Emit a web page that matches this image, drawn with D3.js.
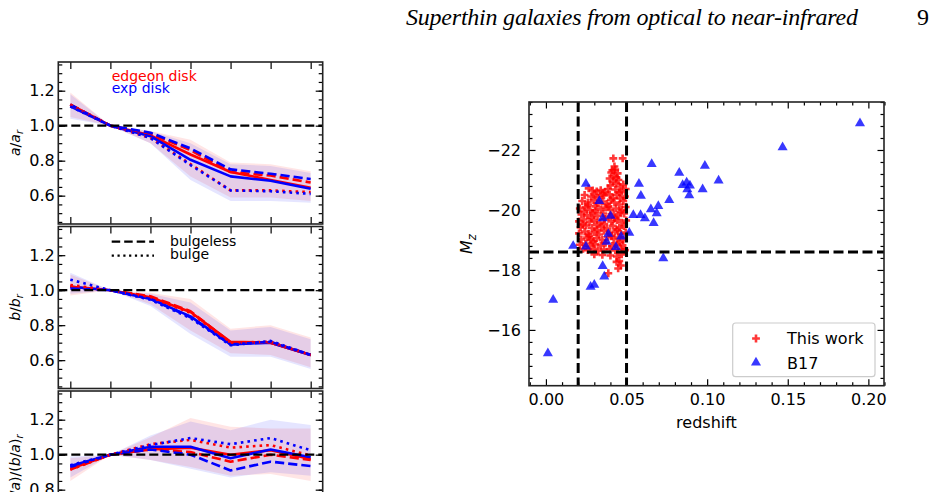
<!DOCTYPE html>
<html><head><meta charset="utf-8">
<script src="https://cdn.jsdelivr.net/npm/d3@7"></script>
<style>body{margin:0;background:#fff;} svg{display:block;}</style>
</head><body>
<svg id="c" width="938" height="492"></svg>
<script>
// ---------------- data: left stacked panels ----------------
const steps = [0, 1, 2, 3, 4, 5, 6];
const yTicksLeft = [0.6, 0.8, 1.0, 1.2];

// panel a/a_r
const aRedSolid  = [1.12, 1.0, 0.945, 0.835, 0.735, 0.69, 0.645];
const aBlueSolid = [1.11, 1.0, 0.94, 0.805, 0.71, 0.685, 0.64];
const aRedDash   = [1.12, 1.0, 0.955, 0.86, 0.735, 0.715, 0.675];
const aBlueDash  = [1.12, 1.0, 0.96, 0.87, 0.75, 0.725, 0.695];
const aRedDot    = [1.12, 1.0, 0.93, 0.78, 0.63, 0.63, 0.62];
const aBlueDot   = [1.11, 1.0, 0.93, 0.775, 0.63, 0.625, 0.61];
const aRedLo  = [1.05, 1.0, 0.90, 0.71, 0.59, 0.59, 0.57];
const aRedHi  = [1.19, 1.0, 0.97, 0.92, 0.79, 0.78, 0.74];
const aBlueLo = [1.04, 1.0, 0.90, 0.69, 0.57, 0.57, 0.56];
const aBlueHi = [1.18, 1.0, 0.97, 0.90, 0.78, 0.77, 0.73];

// panel b/b_r
const bRedSolid  = [1.02, 1.0, 0.96, 0.875, 0.705, 0.70, 0.63];
const bBlueSolid = [1.02, 1.0, 0.95, 0.85, 0.69, 0.70, 0.63];
const bRedDash   = [1.02, 1.0, 0.965, 0.88, 0.70, 0.70, 0.63];
const bBlueDash  = [1.01, 1.0, 0.95, 0.845, 0.69, 0.705, 0.63];
const bRedDot    = [1.03, 1.0, 0.96, 0.87, 0.70, 0.705, 0.63];
const bBlueDot   = [1.06, 1.0, 0.945, 0.84, 0.685, 0.71, 0.63];
const bRedLo  = [0.97, 1.0, 0.92, 0.77, 0.64, 0.63, 0.56];
const bRedHi  = [1.09, 1.0, 0.985, 0.95, 0.78, 0.80, 0.73];
const bBlueLo = [0.98, 1.0, 0.91, 0.75, 0.62, 0.62, 0.55];
const bBlueHi = [1.10, 1.0, 0.98, 0.93, 0.77, 0.79, 0.72];

// panel (b/a)/(b/a)_r
const cRedSolid  = [0.92, 1.0, 1.03, 1.04, 1.0, 1.025, 0.975];
const cBlueSolid = [0.935, 1.0, 1.045, 1.045, 0.98, 1.03, 0.985];
const cRedDash   = [0.915, 1.0, 1.03, 1.015, 0.96, 1.0, 0.97];
const cBlueDash  = [0.93, 1.0, 1.03, 1.0, 0.91, 0.96, 0.935];
const cRedDot    = [0.915, 1.0, 1.06, 1.085, 1.04, 1.055, 0.995];
const cBlueDot   = [0.94, 1.0, 1.055, 1.095, 1.06, 1.095, 1.025];
const cRedLo  = [0.85, 1.0, 0.97, 0.93, 0.88, 0.89, 0.85];
const cRedHi  = [0.98, 1.0, 1.10, 1.21, 1.16, 1.15, 1.15];
const cBlueLo = [0.87, 1.0, 0.97, 0.92, 0.87, 0.90, 0.88];
const cBlueHi = [0.99, 1.0, 1.11, 1.19, 1.14, 1.20, 1.17];

// ---------------- data: scatter ----------------
const xTicksScatter = [0.00, 0.05, 0.10, 0.15, 0.20];
const yTicksScatter = [-22, -20, -18, -16];
const redshiftCuts = [0.02, 0.05];
const magnitudeCut = [-18.6];
const legendNames = ["This work", "B17"];

// [redshift, M_z]  -- this work
const thisWork = [
 [0.0418,-21.72],[0.0476,-21.72],
 [0.0430,-21.35],[0.0405,-21.25],[0.0445,-21.22],[0.0420,-21.12],[0.0395,-21.05],[0.0450,-21.0],
 [0.0415,-20.95],[0.0435,-20.88],[0.0480,-20.85],[0.0400,-20.82],[0.0460,-20.78],[0.0425,-21.45],
 [0.0412,-21.32],[0.0438,-21.08],
 [0.0265,-20.72],[0.0290,-20.65],[0.0315,-20.62],[0.0340,-20.66],[0.0366,-20.6],[0.0385,-20.7],
 [0.0430,-20.68],[0.0470,-20.62],[0.0495,-20.7],[0.0352,-20.55],[0.0455,-20.58],
 [0.0240,-20.5],[0.0280,-20.45],[0.0305,-20.5],[0.0330,-20.42],[0.0360,-20.48],[0.0395,-20.52],
 [0.0415,-20.4],[0.0440,-20.5],[0.0460,-20.38],[0.0490,-20.45],
 [0.0225,-20.3],[0.0260,-20.25],[0.0295,-20.32],[0.0350,-20.28],[0.0380,-20.2],[0.0425,-20.25],
 [0.0455,-20.18],[0.0480,-20.3],[0.0318,-20.22],[0.0402,-20.34],
 [0.0210,-20.05],[0.0245,-20.1],[0.0275,-20.0],[0.0310,-20.12],[0.0340,-20.02],[0.0370,-20.08],
 [0.0400,-20.0],[0.0435,-20.05],[0.0470,-20.0],[0.0495,-20.1],[0.0262,-20.16],[0.0388,-20.12],
 [0.0220,-19.85],[0.0255,-19.82],[0.0290,-19.9],[0.0320,-19.8],[0.0355,-19.88],[0.0390,-19.78],
 [0.0420,-19.86],[0.0450,-19.8],[0.0485,-19.88],[0.0238,-19.95],[0.0305,-19.96],[0.0462,-19.93],
 [0.0205,-19.62],[0.0235,-19.68],[0.0270,-19.6],[0.0300,-19.66],[0.0335,-19.58],[0.0365,-19.7],
 [0.0405,-19.62],[0.0440,-19.66],[0.0470,-19.58],[0.0498,-19.65],[0.0282,-19.74],[0.0428,-19.73],
 [0.0215,-19.42],[0.0250,-19.48],[0.0285,-19.4],[0.0315,-19.5],[0.0345,-19.44],[0.0380,-19.38],
 [0.0415,-19.47],[0.0455,-19.4],[0.0485,-19.46],[0.0228,-19.52],[0.0362,-19.53],
 [0.0205,-19.22],[0.0240,-19.28],[0.0265,-19.2],[0.0300,-19.26],[0.0330,-19.18],[0.0360,-19.3],
 [0.0395,-19.22],[0.0430,-19.28],[0.0465,-19.2],[0.0495,-19.25],[0.0318,-19.34],[0.0442,-19.34],
 [0.0220,-19.02],[0.0255,-19.08],[0.0280,-19.0],[0.0315,-19.06],[0.0350,-19.0],[0.0385,-19.1],
 [0.0420,-19.03],[0.0450,-19.08],[0.0480,-19.0],[0.0268,-19.13],[0.0408,-19.14],
 [0.0210,-18.84],[0.0245,-18.88],[0.0275,-18.8],[0.0305,-18.86],[0.0340,-18.82],[0.0370,-18.9],
 [0.0410,-18.8],[0.0440,-18.86],[0.0475,-18.82],[0.0292,-18.95],[0.0458,-18.93],
 [0.0230,-18.7],[0.0260,-18.66],[0.0295,-18.7],[0.0325,-18.64],[0.0360,-18.68],[0.0395,-18.7],
 [0.0430,-18.65],[0.0465,-18.7],[0.0490,-18.66],
 [0.0350,-18.5],[0.0400,-18.48],[0.0440,-18.45],[0.0470,-18.52],[0.0455,-18.3],[0.0438,-18.27],
 [0.0465,-18.15],[0.0448,-18.05],[0.0387,-17.89],[0.0300,-18.52]
];

// [redshift, M_z]  -- B17
const b17 = [
 [0.1948,-22.89],[0.1468,-22.09],[0.0656,-21.53],[0.0986,-21.47],[0.0827,-21.24],[0.1071,-20.98],
 [0.0248,-20.87],[0.0577,-20.87],[0.0848,-20.83],[0.0873,-20.91],[0.0893,-20.81],[0.0877,-20.69],
 [0.0972,-20.69],[0.0889,-20.49],[0.0589,-20.47],[0.0331,-20.30],[0.0765,-20.33],[0.0697,-20.13],
 [0.0651,-20.02],[0.0687,-19.89],[0.0542,-19.83],[0.0587,-19.83],[0.0614,-19.72],[0.0668,-19.56],
 [0.0401,-19.80],[0.0352,-19.72],[0.0387,-19.20],[0.0517,-19.24],[0.0467,-19.11],[0.0376,-18.94],
 [0.0169,-18.80],[0.0248,-18.78],[0.0434,-18.76],[0.0728,-18.39],[0.0352,-18.13],[0.0362,-17.78],
 [0.0277,-17.44],[0.0300,-17.50],[0.0045,-17.00],[0.0012,-15.22]
];

// ---------------- drawing ----------------
const svg = d3.select('#c');
const FONT = "'DejaVu Sans', sans-serif";
const RED = '#ff0000', BLUE = '#0000ff';

// header
svg.append('text').attr('x', 406).attr('y', 25).attr('font-family', "'Liberation Serif', serif")
  .attr('font-style', 'italic').attr('font-size', 24).attr('textLength', 452).attr('lengthAdjust', 'spacing')
  .text('Superthin galaxies from optical to near-infrared');
svg.append('text').attr('x', 917).attr('y', 25).attr('font-family', "'Liberation Serif', serif")
  .attr('font-size', 24).text('9');

// ---- left panels ----
const lx = d3.scaleLinear().domain([-0.3, 6.3]).range([58.3, 322.7]);
const panelH = 162;
const panels = [
  {top: 62, lines: [aRedSolid, aBlueSolid, aRedDash, aBlueDash, aRedDot, aBlueDot],
   bands: [[aRedLo, aRedHi], [aBlueLo, aBlueHi]], label: 'a'},
  {top: 226.5, lines: [bRedSolid, bBlueSolid, bRedDash, bBlueDash, bRedDot, bBlueDot],
   bands: [[bRedLo, bRedHi], [bBlueLo, bBlueHi]], label: 'b'},
  {top: 391, lines: [cRedSolid, cBlueSolid, cRedDash, cBlueDash, cRedDot, cBlueDot],
   bands: [[cRedLo, cRedHi], [cBlueLo, cBlueHi]], label: 'c'}
];
const lineStyles = [
  {c: RED, dash: null}, {c: BLUE, dash: null},
  {c: RED, dash: '9.2,4'}, {c: BLUE, dash: '9.2,4'},
  {c: RED, dash: '2.6,4.1'}, {c: BLUE, dash: '2.6,4.1'}
];
const minorLeft = d3.range(0.45, 1.37, 0.05).map(v => +v.toFixed(2));

panels.forEach((p, pi) => {
  const y = d3.scaleLinear().domain([0.438, 1.364]).range([p.top + panelH, p.top]);
  const g = svg.append('g');
  const clipId = 'clip' + pi;
  svg.append('clipPath').attr('id', clipId).append('rect')
    .attr('x', lx.range()[0]).attr('y', p.top).attr('width', lx.range()[1] - lx.range()[0]).attr('height', panelH);
  const dg = g.append('g').attr('clip-path', `url(#${clipId})`);
  const bandColors = [RED, BLUE];
  p.bands.forEach((b, bi) => {
    const area = d3.area().x((d, i) => lx(steps[i])).y0((d, i) => y(b[0][i])).y1((d, i) => y(b[1][i]));
    dg.append('path').datum(steps).attr('d', area).attr('fill', bandColors[bi]).attr('fill-opacity', 0.1);
  });
  p.lines.forEach((vals, li) => {
    const st = lineStyles[li];
    const line = d3.line().x((d, i) => lx(steps[i])).y(d => y(d));
    dg.append('path').datum(vals).attr('d', line).attr('fill', 'none').attr('stroke', st.c)
      .attr('stroke-width', 2.6).attr('stroke-dasharray', st.dash).attr('stroke-linejoin', 'round');
  });
  dg.append('line').attr('x1', lx.range()[0]).attr('x2', lx.range()[1]).attr('y1', y(1.0)).attr('y2', y(1.0))
    .attr('stroke', '#000').attr('stroke-width', 2.2).attr('stroke-dasharray', '9,4');

  // axes
  const axL = g.append('g').attr('transform', `translate(${lx.range()[0]},0)`)
    .call(d3.axisLeft(y).tickValues(yTicksLeft).tickFormat(d3.format('.1f')).tickSizeInner(-7).tickSizeOuter(0).tickPadding(3.5));
  const axLm = g.append('g').attr('transform', `translate(${lx.range()[0]},0)`)
    .call(d3.axisLeft(y).tickValues(minorLeft).tickFormat('').tickSizeInner(-4).tickSizeOuter(0));
  const axR = g.append('g').attr('transform', `translate(${lx.range()[1]},0)`)
    .call(d3.axisRight(y).tickValues(yTicksLeft).tickFormat('').tickSizeInner(-7).tickSizeOuter(0));
  const axRm = g.append('g').attr('transform', `translate(${lx.range()[1]},0)`)
    .call(d3.axisRight(y).tickValues(minorLeft).tickFormat('').tickSizeInner(-4).tickSizeOuter(0));
  const axT = g.append('g').attr('transform', `translate(0,${p.top})`)
    .call(d3.axisTop(lx).tickValues(steps).tickFormat('').tickSizeInner(-7).tickSizeOuter(0));
  const axB = g.append('g').attr('transform', `translate(0,${p.top + panelH})`)
    .call(d3.axisBottom(lx).tickValues(steps).tickFormat('').tickSizeInner(-7).tickSizeOuter(0));
  [axL, axLm, axR, axRm, axT, axB].forEach(a => {
    a.select('.domain').remove();
    a.selectAll('line').attr('stroke', '#000').attr('stroke-width', 1.2);
    a.selectAll('text').attr('font-family', FONT).attr('font-size', 16).attr('fill', '#000');
  });
  g.append('rect').attr('x', lx.range()[0]).attr('y', p.top).attr('width', lx.range()[1] - lx.range()[0])
    .attr('height', panelH).attr('fill', 'none').attr('stroke', '#222').attr('stroke-width', 1.6);

  // y labels
  const cy = p.top + panelH / 2;
  const lab = svg.append('text').attr('transform', `translate(19.5,${cy}) rotate(-90)`)
    .attr('text-anchor', 'middle').attr('font-family', FONT).attr('font-size', 14);
  const it = (t) => lab.append('tspan').attr('font-style', 'italic').text(t);
  const up = (t) => lab.append('tspan').text(t);
  const sub = (t) => lab.append('tspan').attr('font-style', 'italic').attr('font-size', 10).attr('dy', 3).text(t);
  if (p.label === 'a') { it('a'); up('/'); it('a'); sub('r'); }
  else if (p.label === 'b') { it('b'); up('/'); it('b'); sub('r'); }
  else { up('('); it('b'); up('/'); it('a'); up(')/('); it('b'); up('/'); it('a'); up(')'); sub('r'); }
});

// panel legends
svg.append('text').attr('x', 111.7).attr('y', 81).attr('font-family', FONT).attr('font-size', 14)
  .attr('fill', RED).text('edgeon disk');
svg.append('text').attr('x', 111.7).attr('y', 93).attr('font-family', FONT).attr('font-size', 14)
  .attr('fill', BLUE).text('exp disk');
svg.append('line').attr('x1', 111.7).attr('x2', 154).attr('y1', 241.7).attr('y2', 241.7)
  .attr('stroke', '#000').attr('stroke-width', 2.2).attr('stroke-dasharray', '8.5,4');
svg.append('line').attr('x1', 111.7).attr('x2', 154).attr('y1', 255.7).attr('y2', 255.7)
  .attr('stroke', '#000').attr('stroke-width', 2.2).attr('stroke-dasharray', '2.2,3.6');
svg.append('text').attr('x', 170).attr('y', 246).attr('font-family', FONT).attr('font-size', 14).text('bulgeless');
svg.append('text').attr('x', 170).attr('y', 258.5).attr('font-family', FONT).attr('font-size', 14).text('bulge');

// ---- scatter ----
const sx = d3.scaleLinear().domain([-0.0105, 0.2097]).range([529, 884]);
const sy = d3.scaleLinear().domain([-23.6, -14.14]).range([102, 385.7]);
const sg = svg.append('g');
svg.append('clipPath').attr('id', 'sclip').append('rect')
  .attr('x', 529).attr('y', 102).attr('width', 355).attr('height', 283.7);
const sd = sg.append('g').attr('clip-path', 'url(#sclip)');
const crossSym = d3.symbol(d3.symbolCross, 34);
const triSym = d3.symbol(d3.symbolTriangle, 44);
sd.selectAll('path.tw').data(thisWork).join('path').attr('class', 'tw')
  .attr('d', crossSym)
  .attr('transform', d => `translate(${sx(d[0])},${sy(d[1])})`)
  .attr('fill', RED).attr('fill-opacity', 0.78);
sd.selectAll('path.b17').data(b17).join('path').attr('class', 'b17')
  .attr('d', triSym)
  .attr('transform', d => `translate(${sx(d[0])},${sy(d[1])})`)
  .attr('fill', BLUE).attr('fill-opacity', 0.78);
sd.selectAll('line.vc').data(redshiftCuts).join('line').attr('class', 'vc')
  .attr('x1', d => sx(d)).attr('x2', d => sx(d)).attr('y1', 102).attr('y2', 385.7)
  .attr('stroke', '#000').attr('stroke-width', 3).attr('stroke-dasharray', '10,4.5');
sd.selectAll('line.hc').data(magnitudeCut).join('line').attr('class', 'hc')
  .attr('x1', 529).attr('x2', 884).attr('y1', d => sy(d)).attr('y2', d => sy(d))
  .attr('stroke', '#000').attr('stroke-width', 3).attr('stroke-dasharray', '10,4.5');

const xMinor = d3.range(-0.01, 0.2101, 0.01).map(v => +v.toFixed(2)).filter(v => xTicksScatter.indexOf(v) < 0);
const yMinor = d3.range(-23.6, -14.1, 0.4).map(v => +v.toFixed(1)).filter(v => yTicksScatter.indexOf(v) < 0);
const fmtMinus = v => String(v).replace('-', '\u2212');
const sAxes = [
  sg.append('g').attr('transform', 'translate(0,385.7)')
    .call(d3.axisBottom(sx).tickValues(xTicksScatter).tickFormat(d3.format('.2f')).tickSizeInner(-6.5).tickSizeOuter(0).tickPadding(8)),
  sg.append('g').attr('transform', 'translate(0,385.7)')
    .call(d3.axisBottom(sx).tickValues(xMinor).tickFormat('').tickSizeInner(-3.5).tickSizeOuter(0)),
  sg.append('g').attr('transform', 'translate(0,102)')
    .call(d3.axisTop(sx).tickValues(xTicksScatter).tickFormat('').tickSizeInner(-6.5).tickSizeOuter(0)),
  sg.append('g').attr('transform', 'translate(0,102)')
    .call(d3.axisTop(sx).tickValues(xMinor).tickFormat('').tickSizeInner(-3.5).tickSizeOuter(0)),
  sg.append('g').attr('transform', 'translate(529,0)')
    .call(d3.axisLeft(sy).tickValues(yTicksScatter).tickFormat(fmtMinus).tickSizeInner(-6.5).tickSizeOuter(0).tickPadding(8)),
  sg.append('g').attr('transform', 'translate(529,0)')
    .call(d3.axisLeft(sy).tickValues(yMinor).tickFormat('').tickSizeInner(-3.5).tickSizeOuter(0)),
  sg.append('g').attr('transform', 'translate(884,0)')
    .call(d3.axisRight(sy).tickValues(yTicksScatter).tickFormat('').tickSizeInner(-6.5).tickSizeOuter(0)),
  sg.append('g').attr('transform', 'translate(884,0)')
    .call(d3.axisRight(sy).tickValues(yMinor).tickFormat('').tickSizeInner(-3.5).tickSizeOuter(0))
];
sAxes.forEach(a => {
  a.select('.domain').remove();
  a.selectAll('line').attr('stroke', '#000').attr('stroke-width', 1.2);
  a.selectAll('text').attr('font-family', FONT).attr('font-size', 16).attr('fill', '#000');
});
sg.append('rect').attr('x', 529).attr('y', 102).attr('width', 355).attr('height', 283.7)
  .attr('fill', 'none').attr('stroke', '#222').attr('stroke-width', 1.6);

// axis labels
svg.append('text').attr('x', 706.5).attr('y', 428).attr('text-anchor', 'middle')
  .attr('font-family', FONT).attr('font-size', 16).text('redshift');
const ml = svg.append('text').attr('transform', 'translate(472,244) rotate(-90)').attr('text-anchor', 'middle')
  .attr('font-family', FONT).attr('font-size', 16);
ml.append('tspan').attr('font-style', 'italic').text('M');
ml.append('tspan').attr('font-style', 'italic').attr('font-size', 11.5).attr('dy', 3.5).text('z');

// scatter legend
const lg = svg.append('g');
lg.append('rect').attr('x', 732.7).attr('y', 323).attr('width', 142.3).attr('height', 53.7)
  .attr('rx', 3).attr('fill', '#fff').attr('fill-opacity', 0.8).attr('stroke', '#cccccc').attr('stroke-width', 1.2);
lg.append('path').attr('d', crossSym).attr('transform', 'translate(756,338.5)')
  .attr('fill', RED).attr('fill-opacity', 0.78);
lg.append('path').attr('d', triSym).attr('transform', 'translate(756,362.5)')
  .attr('fill', BLUE).attr('fill-opacity', 0.78);
lg.selectAll('text').data(legendNames).join('text').attr('x', 787).attr('y', (d, i) => 344 + i * 24.5)
  .attr('font-family', FONT).attr('font-size', 16).text(d => d);
</script>
</body></html>
